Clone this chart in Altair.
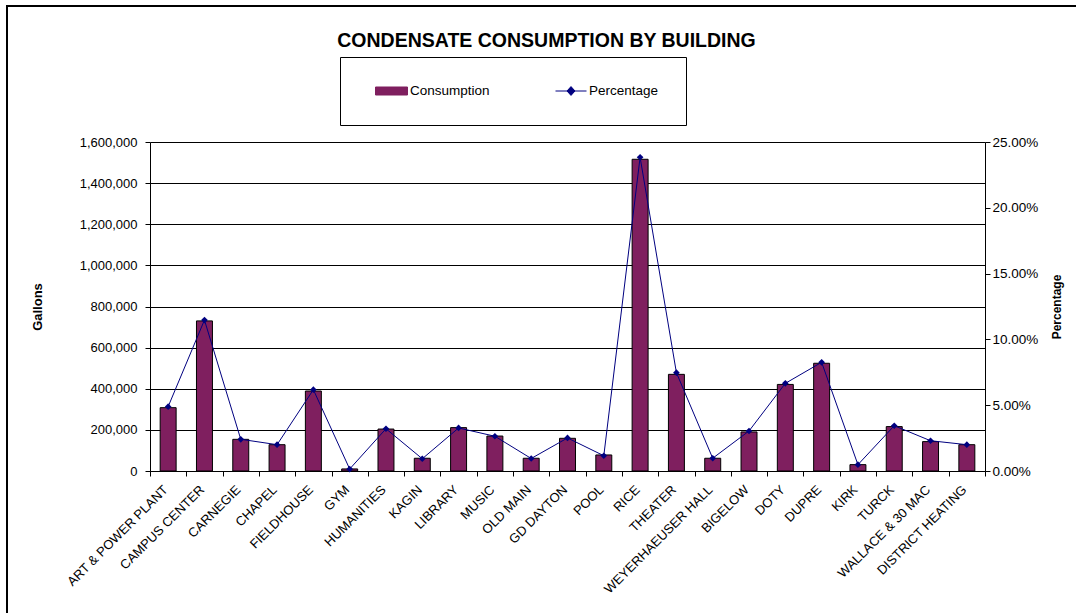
import altair as alt
import pandas as pd

buildings = ["ART & POWER PLANT", "CAMPUS CENTER", "CARNEGIE", "CHAPEL", "FIELDHOUSE",
             "GYM", "HUMANITIES", "KAGIN", "LIBRARY", "MUSIC", "OLD MAIN", "GD DAYTON",
             "POOL", "RICE", "THEATER", "WEYERHAEUSER HALL", "BIGELOW", "DOTY", "DUPRE",
             "KIRK", "TURCK", "WALLACE & 30 MAC", "DISTRICT HEATING"]
consumption = [308000, 730000, 154000, 128000, 389000, 10000, 204000, 62000, 211000,
               170000, 62000, 159000, 78000, 1516000, 470000, 62000, 190000, 421000,
               524000, 31000, 216000, 143000, 128000]
percentage = [0.0489, 0.1147, 0.0241, 0.0200, 0.0618, 0.0015, 0.0321, 0.0093, 0.0327,
              0.0264, 0.0095, 0.0251, 0.0116, 0.2384, 0.0747, 0.0097, 0.0304, 0.0666,
              0.0826, 0.0048, 0.0344, 0.0230, 0.0200]
gallon_ticks = [0, 200000, 400000, 600000, 800000, 1000000, 1200000, 1400000, 1600000]
pct_ticks = [0, 0.05, 0.10, 0.15, 0.20, 0.25]
series = ["Consumption", "Percentage"]

df = pd.DataFrame({"Building": buildings, "Consumption": consumption, "Percentage": percentage})

FONT = "Liberation Sans"
BAR = "#7F1F5F"
LINE = "#000080"

color_scale = alt.Scale(domain=series, range=[BAR, LINE])

legend = alt.Legend(
    title=None, orient="none", legendX=190, legendY=-85, direction="horizontal", columns=2,
    padding=27, clipHeight=14, columnPadding=56, labelOffset=2, symbolSize=1600,
    strokeColor="black", fillColor="white", labelFont=FONT, labelFontSize=13.5,
    labelColor="black", symbolStrokeWidth=1, symbolOpacity=1,
    symbolType={"expr": "datum.value === 'Consumption' ? 'M-0.6,-0.2H1V0.2H-0.6Z' : 'M-0.55,0H1M0.225,-0.22L0.425,0L0.225,0.22L0.025,0Z'"},
    symbolFillColor={"expr": "datum.value === 'Consumption' ? '#7F1F5F' : '#000080'"},
    symbolStrokeColor={"expr": "datum.value === 'Consumption' ? '#000000' : '#000080'"},
)

x_enc = alt.X("Building:N", sort=buildings,
              scale=alt.Scale(paddingInner=0, paddingOuter=0),
              axis=alt.Axis(title=None, labelAngle=-45, tickBand="extent", labelFontSize=13,
                            tickSize=5, labelPadding=7, labelOffset=-7,
                            domainColor="black", tickColor="black"))

base = alt.Chart(df)

bars = base.transform_calculate(Series="'Consumption'").mark_bar(
    width=alt.RelativeBandSize(0.44), stroke="black", strokeWidth=1
).encode(
    x=x_enc,
    y=alt.Y("Consumption:Q", scale=alt.Scale(domain=[0, 1600000], nice=False),
            axis=alt.Axis(values=gallon_ticks, format=",.0f", title="Gallons", grid=True,
                          gridColor="black", gridWidth=1, tickSize=5, labelPadding=8,
                          labelFontSize=13, titleFontSize=13, titlePadding=35)),
    color=alt.Color("Series:N", scale=color_scale, legend=legend),
)

y_pct = alt.Y("Percentage:Q", scale=alt.Scale(domain=[0, 0.25], nice=False),
              axis=alt.Axis(orient="right", values=pct_ticks, format=".2%", title="Percentage",
                            grid=False, tickSize=5, labelPadding=2, labelFontSize=13.5,
                            titleFontSize=12, titlePadding=26, titleAngle=270))

pbase = base.transform_calculate(Series="'Percentage'")
line = pbase.mark_line(strokeWidth=1).encode(
    x=alt.X("Building:N", sort=buildings),
    y=y_pct,
    color=alt.Color("Series:N", scale=color_scale, legend=legend),
)
points = pbase.mark_point(shape="diamond", filled=True, size=45, opacity=1).encode(
    x=alt.X("Building:N", sort=buildings),
    y=y_pct,
    color=alt.Color("Series:N", scale=color_scale, legend=legend),
)

frame = alt.Chart(alt.Data(values=[{"a": 1}])).mark_rect(
    fill="transparent", stroke="black", strokeWidth=2
).encode(
    x=alt.value(-143), x2=alt.value(1200), y=alt.value(-136), y2=alt.value(700)
)

chart = alt.layer(frame, bars, line + points).resolve_scale(y="independent").properties(
    width=835, height=329,
    autosize=alt.AutoSizeParams(type="none"),
    padding={"left": 150, "top": 142, "right": 91, "bottom": 142},
    title=alt.TitleParams("CONDENSATE CONSUMPTION BY BUILDING", font=FONT, fontSize=19.5,
                          fontWeight="bold", anchor="middle", frame="group", color="black",
                          dx=-21, dy=50),
).configure_axis(
    labelFont=FONT, titleFont=FONT, labelColor="black", titleColor="black",
    domainColor="black", tickColor="black", titleFontWeight="bold"
).configure_view(stroke="transparent")

chart.save("out.html", embed_options={"renderer": "svg", "actions": False})
